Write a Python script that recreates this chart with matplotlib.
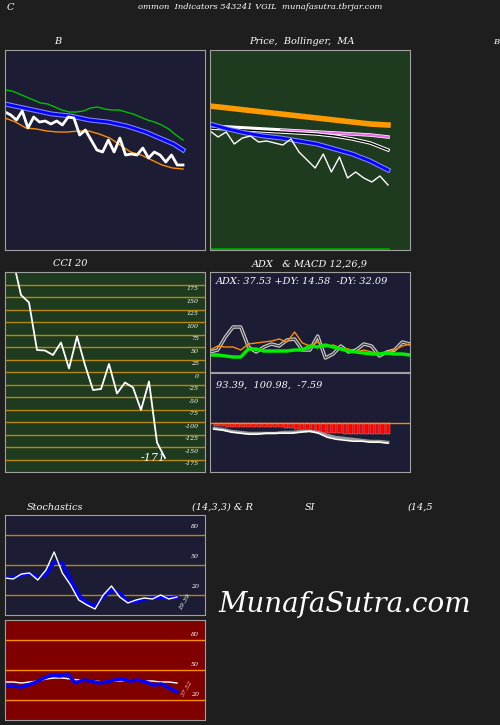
import numpy as np
import matplotlib.pyplot as plt

BG = '#1e1e1e'
NAVY = '#1c1c34'
GREEN_BG = '#1f3b1f'
RED_BG = '#800000'
FRAME = '#a0a0a0'
GRID = '#b8860b'

# Bollinger panel (B) - values as read, higher = up
b_close = [138, 135, 130, 139, 122, 133, 128, 129, 126, 129, 125, 133, 132, 115, 120, 110,
           100, 98, 110, 98, 112, 95, 96, 95, 102, 92, 98, 95, 88, 95, 85, 85]
b_upper = [160, 159, 156, 153, 150, 147, 146, 143, 140, 138, 138, 139, 142, 143, 141, 140,
           140, 138, 136, 133, 130, 128, 125, 121, 115, 110]
b_mid = [146, 144, 142, 140, 138, 136, 135, 134, 132, 130, 129, 128, 126, 124, 121, 118,
         114, 110, 106, 100]
b_lower = [132, 128, 122, 121, 119, 118, 118, 119, 119, 116, 112, 105, 98, 95, 90, 85, 82, 81]

# Price panel
p_close = [119, 113, 118, 106, 112, 114, 108, 109, 107, 105, 111, 98, 90, 82, 96, 78, 93, 72,
           78, 72, 68, 74, 65]
p_ma_orange = [144, 142, 140, 138, 136, 134, 132, 130, 128, 126, 125]
p_ma_pink = [124, 123, 122, 121, 120, 119, 118, 117, 116, 115, 113]
p_ma_black = [122, 121, 120, 119, 118, 117, 116, 114, 111, 107, 100]
p_ma_blue = [126, 121, 117, 114, 112, 109, 106, 101, 96, 89, 80]

# CCI 20
cci = [225, 155, 140, 45, 44, 35, 60, 8, 72, 15, -35, -33, 17, -42, -20, -30, -75, -18, -140, -171]
cci_levels = [175, 150, 125, 100, 75, 50, 25, 0, -25, -50, -75, -100, -125, -150, -175]

# ADX
adx = [17, 17, 16, 15, 15, 23, 23, 21, 21, 21, 21, 22, 22, 26, 25, 27, 25, 23, 21, 20, 19,
       18, 18, 19, 18, 18, 17]
pdi = [20, 22, 35, 45, 45, 25, 20, 25, 28, 26, 32, 33, 22, 22, 36, 14, 18, 26, 20, 22, 28,
       26, 16, 20, 22, 30, 28]
ndi = [22, 26, 25, 25, 22, 28, 29, 30, 31, 33, 30, 40, 29, 26, 30, 25, 27, 24, 23, 20, 22,
       20, 18, 20, 22, 26, 28]

# MACD
macd = [-6, -7, -9, -10, -11, -11, -10, -10, -10, -10, -9, -8, -10, -14, -16, -17, -18, -18,
        -19, -19, -20]
signal = [-5, -6, -8, -9, -10, -10, -10, -10, -9, -9, -8, -8, -9, -12, -14, -15, -16, -17,
          -18, -18, -19]
hist = [-2, -2, -3, -3, -3, -3, -3, -3, -3, -3, -3, -3, -3, -4, -4, -5, -6, -6, -7, -7, -8,
        -8, -8, -8, -9, -9, -9, -9, -9, -9, -9, -9, -9]

# Stochastics / RSI
stoch_k = [37, 36, 41, 42, 35, 45, 63, 42, 30, 15, 10, 6, 20, 29, 18, 12, 15, 17, 16, 20, 16, 18]
stoch_d = [37, 37, 40, 41, 38, 40, 53, 52, 35, 20, 12, 9, 18, 25, 22, 13, 13, 16, 17, 18, 17, 18]
rsi = [34, 34, 33, 35, 38, 42, 45, 44, 46, 37, 40, 39, 37, 38, 40, 41, 39, 40, 38, 35, 36, 32, 28]
rsi_smooth = [38, 38, 37, 38, 39, 41, 42, 42, 41, 40, 40, 39, 38, 39, 39, 40, 40, 39, 39, 38, 38, 37]

fig = plt.figure(figsize=(5, 7.25), dpi=100, facecolor=BG)
W, H = 500, 725
TXT = dict(color='white', family='DejaVu Serif', style='italic')


def panel(x0, y0, x1, y1, face):
    ax = fig.add_axes([x0 / W, 1 - y1 / H, (x1 - x0) / W, (y1 - y0) / H], facecolor=face)
    ax.set_xticks([])
    ax.set_yticks([])
    for s in ax.spines.values():
        s.set_color(FRAME)
    return ax


def xs(vals, frac):
    n = len(vals)
    return np.linspace(0, frac, n)


def label(x, y, s, size=7, **kw):
    fig.text(x / W, 1 - y / H, s, ha='center', va='center', fontsize=size, **TXT, **kw)


label(10, 7, 'C')
label(260, 7, 'ommon  Indicators 543241 VGIL  munafasutra.tbrjar.com', 6)
label(58, 42, 'B')
label(302, 42, 'Price,  Bollinger,  MA')
label(496, 42, 'B', size=6)
label(70, 264, 'CCI 20')
label(310, 264, 'ADX   & MACD 12,26,9')
label(55, 507, 'Stochastics')
label(222, 507, '(14,3,3) & R')
label(310, 507, 'SI')
label(420, 507, '(14,5')
label(345, 605, 'MunafaSutra.com', 20)

# B panel
ax = panel(5, 50, 205, 250, NAVY)
ax.plot(xs(b_upper, 0.89), b_upper, color='#00c000', lw=1)
ax.plot(xs(b_mid, 0.89), b_mid, color='#8888ff', lw=3.5)
ax.plot(xs(b_mid, 0.89), b_mid, color='blue', lw=2)
ax.plot(xs(b_lower, 0.89), b_lower, color='#ff8c00', lw=1)
ax.plot(xs(b_close, 0.89), b_close, color='white', lw=2)
ax.set_xlim(0, 1)
ax.set_ylim(0, 200)

# Price panel
ax = panel(210, 50, 410, 250, GREEN_BG)
ax.plot(xs(p_ma_orange, 0.89), p_ma_orange, color='#ff9900', lw=4)
ax.plot(xs(p_ma_pink, 0.89), p_ma_pink, color='white', lw=2.5)
ax.plot(xs(p_ma_pink, 0.89)[4:], p_ma_pink[4:], color='#ee66ee', lw=1.5)
ax.plot(xs(p_ma_black, 0.89), p_ma_black, color='white', lw=2.5)
ax.plot(xs(p_ma_black, 0.89), p_ma_black, color='black', lw=1)
ax.plot(xs(p_ma_blue, 0.89), p_ma_blue, color='#8888ff', lw=3.5)
ax.plot(xs(p_ma_blue, 0.89), p_ma_blue, color='blue', lw=2)
ax.plot(xs(p_close, 0.89), p_close, color='white', lw=1)
ax.plot([0, 0.89], [1.5, 1.5], color='#00a000', lw=2)
ax.set_xlim(0, 1)
ax.set_ylim(0, 200)

# CCI panel
ax = panel(5, 272, 205, 472, GREEN_BG)
for v in cci_levels:
    ax.axhline(v, color=GRID, lw=1)
    ax.text(0.97, v - 3, str(v), transform=ax.get_yaxis_transform(), ha='right', va='top',
            fontsize=4.5, **TXT)
ax.plot(np.linspace(0.04, 0.8, len(cci)), cci, color='white', lw=1.3)
ax.text(0.74, cci[-1], str(cci[-1]), transform=ax.get_yaxis_transform(), ha='center',
        va='center', fontsize=8, **TXT)
ax.set_xlim(0, 1)
ax.set_ylim(-199, 201)

# ADX panel
ax = panel(210, 272, 410, 372, NAVY)
xa = xs(adx, 1.0)
ax.plot(xa, pdi, color='#cccccc', lw=2.5)
ax.plot(xa, pdi, color='#333333', lw=0.8)
ax.plot(xa, ndi, color='#ff8c00', lw=1)
ax.plot(xa, adx, color='#00ee00', lw=2.5)
ax.text(0.03, 0.9, 'ADX: 37.53 +DY: 14.58  -DY: 32.09', transform=ax.transAxes,
        fontsize=7, va='center', **TXT)
ax.set_xlim(0, 1)
ax.set_ylim(0, 100)

# MACD panel
ax = panel(210, 373, 410, 472, NAVY)
ax.axhline(0, color='#ff8c00', lw=1)
ax.bar(np.linspace(0.03, 0.89, len(hist)), hist, width=0.022, color='red',
       edgecolor='#ff9999', lw=0.3)
xm = xs(macd, 0.87) + 0.02
ax.plot(xm, np.array(signal) * 0.8, color='#999999', lw=2)
ax.plot(xm, np.array(macd) * 0.8, color='white', lw=1.2)
ax.text(0.03, 0.88, '93.39,  100.98,  -7.59', transform=ax.transAxes, fontsize=7,
        va='center', **TXT)
ax.set_xlim(0, 1)
ax.set_ylim(-39, 40)

# Stochastics
ax = panel(5, 515, 205, 615, NAVY)
for v in [80, 50, 20]:
    ax.axhline(v, color=GRID, lw=1)
    ax.text(0.97, v + 8, str(v), transform=ax.get_yaxis_transform(), ha='right',
            va='center', fontsize=4.5, **TXT)
ax.plot(xs(stoch_d, 0.86), stoch_d, color='blue', lw=2.5)
ax.plot(xs(stoch_k, 0.86), stoch_k, color='white', lw=1)
ax.text(0.9, 14, '19.39', transform=ax.get_yaxis_transform(), ha='center', va='center',
        rotation=60, fontsize=4.5, **TXT)
ax.set_xlim(0, 1)
ax.set_ylim(0, 100)

# RSI
ax = panel(5, 620, 205, 720, RED_BG)
for v in [80, 50, 20]:
    ax.axhline(v, color='#ff8c00', lw=1)
    ax.text(0.97, v + 3, str(v), transform=ax.get_yaxis_transform(), ha='right',
            va='bottom', fontsize=4.5, **TXT)
ax.plot(xs(rsi_smooth, 0.86), rsi_smooth, color='white', lw=1)
ax.plot(xs(rsi, 0.86), rsi, color='blue', lw=2.5)
ax.text(0.91, 32, '37.52', transform=ax.get_yaxis_transform(), ha='center', va='center',
        rotation=60, fontsize=4.5, color='#ffbbbb', family='DejaVu Serif', style='italic')
ax.set_xlim(0, 1)
ax.set_ylim(0, 100)

fig.savefig('out.png', dpi=100, facecolor=BG)
